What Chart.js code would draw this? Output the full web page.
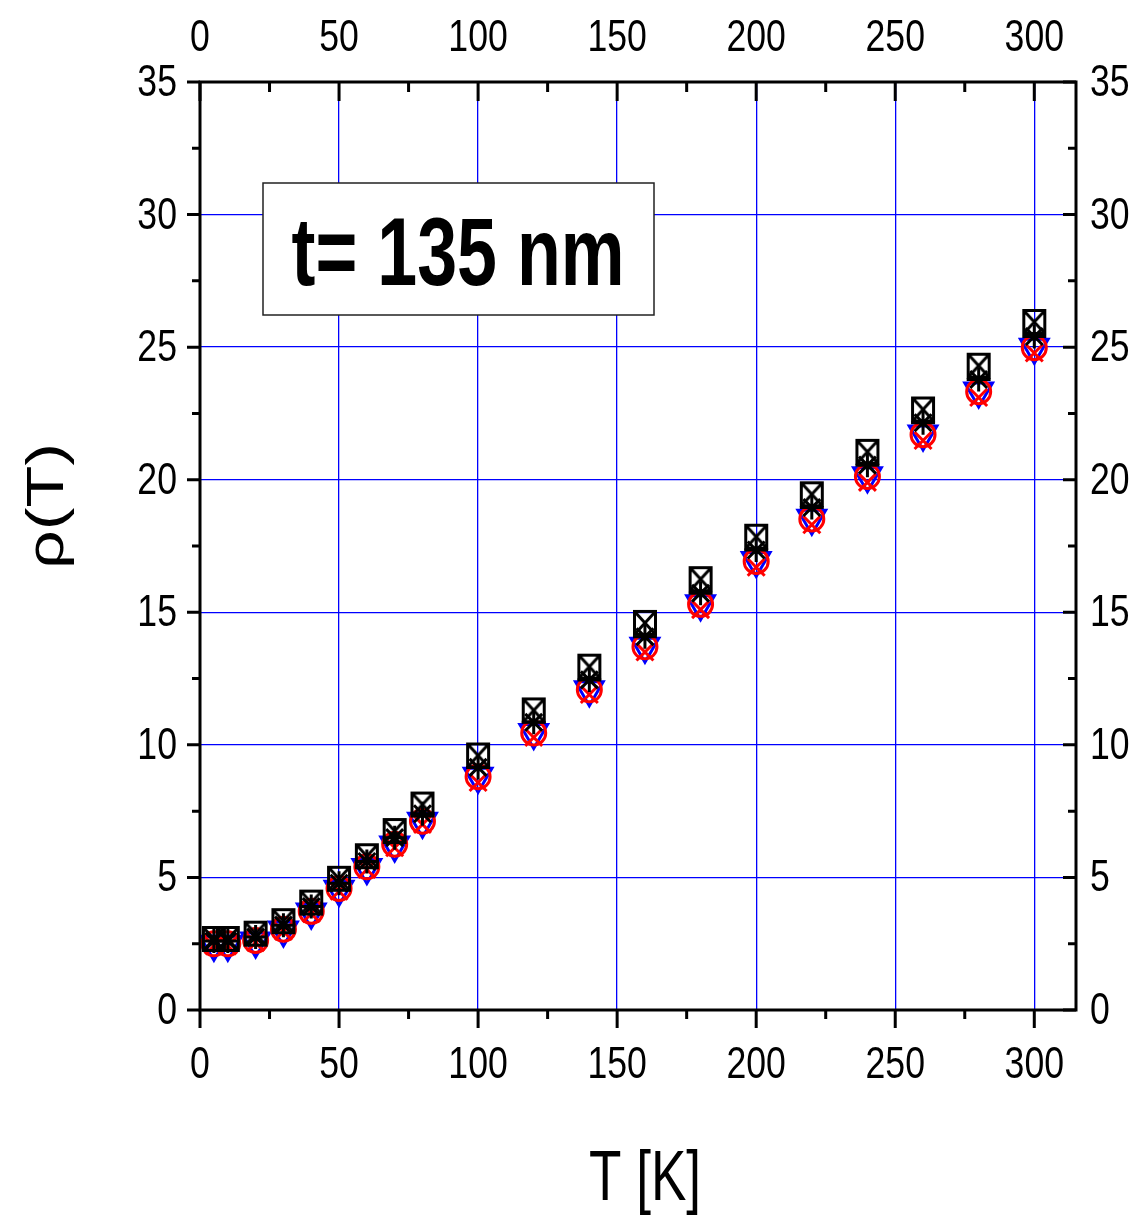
<!DOCTYPE html>
<html>
<head>
<meta charset="utf-8">
<script src="https://cdn.jsdelivr.net/npm/chart.js@4.4.1/dist/chart.umd.min.js"></script>
<style>
  html, body { margin: 0; padding: 0; background: #fff; }
</style>
</head>
<body>
<canvas id="chart" width="1136" height="1215"></canvas>
<script>
// temperatures (K)
const temps = [5, 10, 20, 30, 40, 50, 60, 70, 80, 100, 120, 140, 160, 180, 200, 220, 240, 260, 280, 300];

// rho(T) for each marker series
const rhoSquare = [2.68, 2.68, 2.88, 3.35, 4.05, 4.95, 5.8, 6.75, 7.75, 9.6, 11.3, 12.95, 14.6, 16.25, 17.85, 19.45, 21.05, 22.65, 24.3, 25.95];
const rhoStar   = [2.6, 2.6, 2.75, 3.2, 3.9, 4.78, 5.6, 6.5, 7.4, 9.15, 10.85, 12.45, 14.08, 15.72, 17.35, 18.95, 20.55, 22.15, 23.78, 25.4];
const rhoTri    = [2.48, 2.48, 2.6, 3.02, 3.7, 4.55, 5.37, 6.22, 7.12, 8.82, 10.47, 12.08, 13.72, 15.32, 16.95, 18.55, 20.15, 21.72, 23.35, 25.0];
const rhoCircle = [2.5, 2.5, 2.62, 3.05, 3.72, 4.58, 5.4, 6.25, 7.12, 8.8, 10.45, 12.08, 13.7, 15.3, 16.92, 18.52, 20.12, 21.7, 23.32, 24.98];
const rhoCross  = [2.42, 2.42, 2.54, 2.96, 3.63, 4.48, 5.3, 6.12, 7.0, 8.58, 10.28, 11.9, 13.5, 15.1, 16.7, 18.3, 19.9, 21.48, 23.1, 24.78];

// ticks
const xTicks = [0, 50, 100, 150, 200, 250, 300];
const xMinor = [25, 75, 125, 175, 225, 275];
const yTicks = [0, 5, 10, 15, 20, 25, 30, 35];
const yMinor = [2.5, 7.5, 12.5, 17.5, 22.5, 27.5, 32.5];

const boxText = 't= 135 nm';
const xTitle = 'T [K]';
const yTitle = 'ρ(T)';

const FONT = "'Liberation Sans', Arial, sans-serif";
const SQUEEZE = 0.81; // the original uses a condensed face

// square with an X inside (not a built-in point style)
function squareX() {
  const c = document.createElement('canvas');
  c.width = 26; c.height = 28;
  const g = c.getContext('2d');
  g.strokeStyle = '#000'; g.lineWidth = 3;
  g.strokeRect(2.5, 2.5, 21, 23);
  g.beginPath();
  g.moveTo(2.5, 2.5); g.lineTo(23.5, 25.5);
  g.moveTo(23.5, 2.5); g.lineTo(2.5, 25.5);
  g.stroke();
  return c;
}

const pts = arr => temps.map((t, i) => ({ x: t, y: arr[i] }));

// condensed text: squeeze horizontally around the anchor
function narrowText(ctx, txt, x, y, sx, align) {
  ctx.save();
  ctx.translate(x, y);
  ctx.scale(sx, 1);
  ctx.textAlign = align;
  ctx.fillText(txt, 0, 0);
  ctx.restore();
}

// frame, ticks, tick labels, text box, axis titles
const decor = {
  id: 'decor',
  afterDraw(chart) {
    const { ctx, chartArea: a, scales } = chart;
    const xs = scales.x, ys = scales.y;
    ctx.save();
    ctx.strokeStyle = '#000';
    ctx.lineWidth = 3;
    ctx.beginPath();
    xTicks.concat(xMinor).forEach(v => {
      const px = xs.getPixelForValue(v);
      const major = xTicks.includes(v);
      ctx.moveTo(px, a.bottom); ctx.lineTo(px, a.bottom + (major ? 18 : 9));
      ctx.moveTo(px, a.top); ctx.lineTo(px, a.top + (major ? 19 : 10));
    });
    yTicks.concat(yMinor).forEach(v => {
      const py = ys.getPixelForValue(v);
      const major = yTicks.includes(v);
      ctx.moveTo(a.left, py); ctx.lineTo(a.left - (major ? 13 : 8), py);
      ctx.moveTo(a.right, py); ctx.lineTo(a.right - (major ? 13 : 8), py);
    });
    ctx.stroke();
    ctx.strokeRect(a.left, a.top, a.right - a.left, a.bottom - a.top);

    // tick labels
    ctx.fillStyle = '#000';
    ctx.font = '44px ' + FONT;
    ctx.textBaseline = 'alphabetic';
    xTicks.forEach(v => {
      const px = xs.getPixelForValue(v);
      narrowText(ctx, String(v), px, a.bottom + 68, SQUEEZE, 'center');
      narrowText(ctx, String(v), px, 51, SQUEEZE, 'center');
    });
    yTicks.forEach(v => {
      const py = ys.getPixelForValue(v) + 14;
      narrowText(ctx, String(v), a.left - 23, py, SQUEEZE, 'right');
      narrowText(ctx, String(v), a.right + 14, py, SQUEEZE, 'left');
    });

    // label box
    ctx.fillStyle = '#fff';
    ctx.fillRect(a.left + 63, a.top + 101, 391, 132);
    ctx.lineWidth = 1.5;
    ctx.strokeStyle = '#222';
    ctx.strokeRect(a.left + 63, a.top + 101, 391, 132);
    ctx.fillStyle = '#000';
    ctx.font = 'bold 97px ' + FONT;
    const bw = ctx.measureText(boxText).width;
    narrowText(ctx, boxText, a.left + 258, a.top + 203, 333 / bw, 'center');

    // axis titles
    ctx.font = '70px ' + FONT;
    const xw = ctx.measureText(xTitle).width;
    narrowText(ctx, xTitle, 645, 1200, 112 / xw, 'center');
    ctx.font = '52px ' + FONT;
    const yw = ctx.measureText(yTitle).width;
    ctx.translate(63, 506);
    ctx.rotate(-Math.PI / 2);
    narrowText(ctx, yTitle, 0, 0, 126 / yw, 'center');
    ctx.restore();
  }
};

new Chart(document.getElementById('chart'), {
  type: 'scatter',
  data: {
    datasets: [
      { data: pts(rhoSquare), pointStyle: squareX(), pointRadius: 12 },
      { data: pts(rhoStar), pointStyle: 'star', pointRadius: 12, borderColor: '#000', borderWidth: 3 },
      { data: pts(rhoCross), pointStyle: 'crossRot', pointRadius: 12, borderColor: '#ff0000', borderWidth: 3 },
      { data: pts(rhoCircle), pointStyle: 'circle', pointRadius: 12, borderColor: '#ff0000', backgroundColor: 'rgba(0,0,0,0)', borderWidth: 3 },
      { data: pts(rhoTri), pointStyle: 'triangle', rotation: 180, pointRadius: 16, borderColor: '#0000ff', backgroundColor: 'rgba(0,0,0,0)', borderWidth: 3 }
    ]
  },
  options: {
    responsive: false,
    animation: false,
    devicePixelRatio: 1,
    layout: { padding: { top: 82, right: 60, left: 0, bottom: 0 } },
    plugins: { legend: { display: false }, tooltip: { enabled: false } },
    scales: {
      x: {
        type: 'linear', position: 'bottom', min: 0, max: 315,
        afterBuildTicks: s => { s.ticks = xTicks.map(v => ({ value: v })); },
        afterFit: s => { s.height = 205; },
        grid: { color: '#0000ff', lineWidth: 1.3, drawTicks: false },
        border: { display: false },
        ticks: { display: false }
      },
      y: {
        type: 'linear', position: 'left', min: 0, max: 35,
        afterBuildTicks: s => { s.ticks = yTicks.map(v => ({ value: v })); },
        afterFit: s => { s.width = 200; },
        grid: { color: '#0000ff', lineWidth: 1.3, drawTicks: false },
        border: { display: false },
        ticks: { display: false }
      }
    }
  },
  plugins: [decor]
});
</script>
</body>
</html>
